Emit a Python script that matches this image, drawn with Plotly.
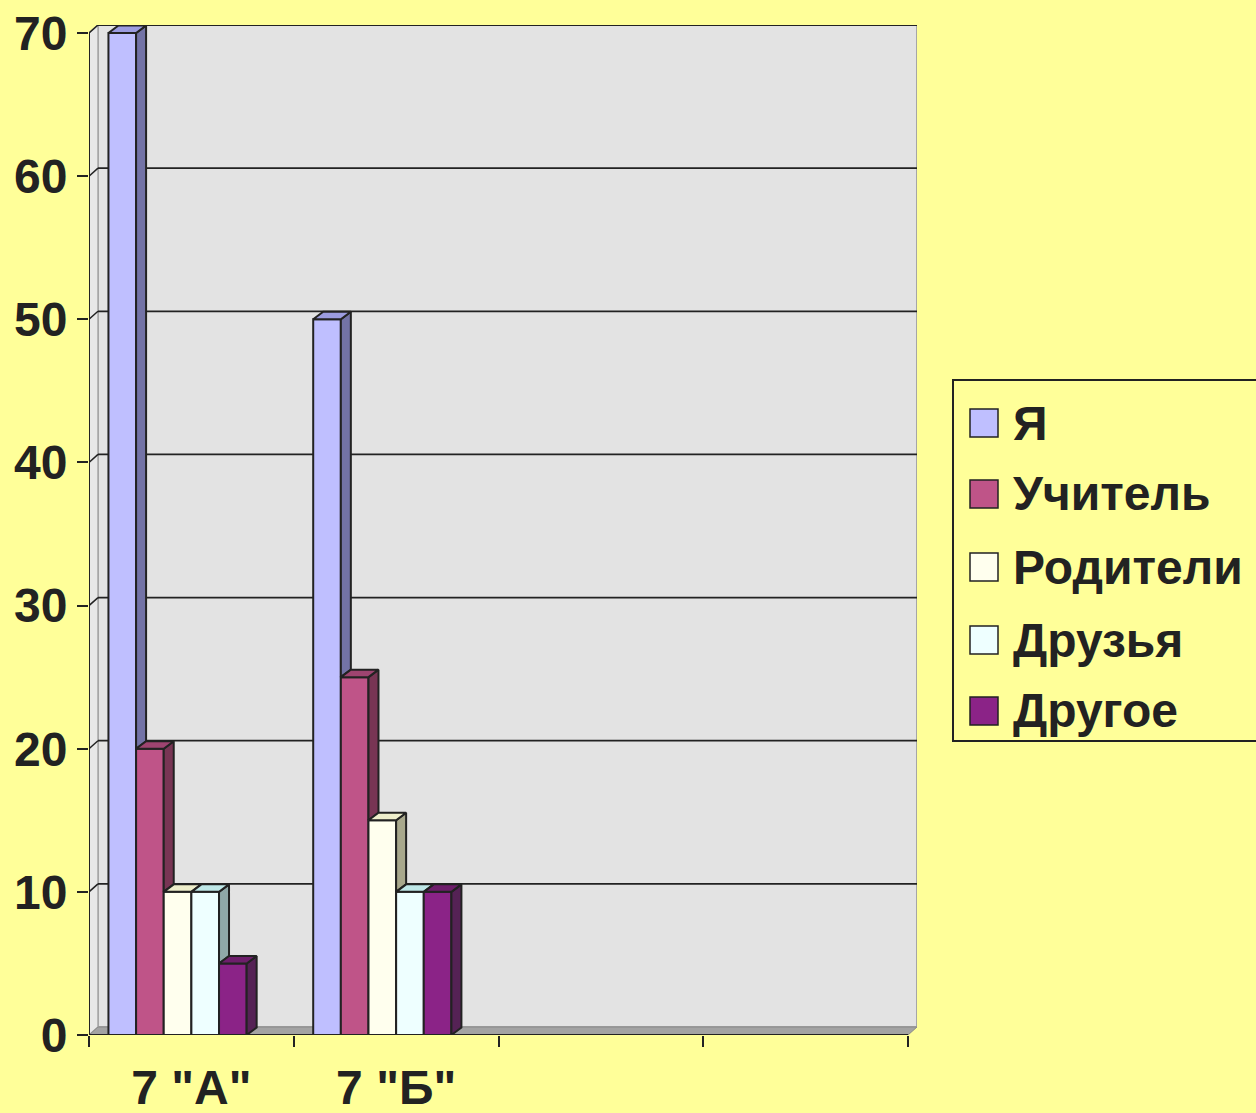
import plotly.graph_objects as go

# ---------------- data ----------------
categories = ['7 "А"', '7 "Б"']
series_names = ["Я", "Учитель", "Родители", "Друзья", "Другое"]
ya_values = [70, 50]
uchitel_values = [20, 25]
roditeli_values = [10, 15]
druzya_values = [10, 10]
drugoe_values = [5, 10]
series_values = [ya_values, uchitel_values, roditeli_values, druzya_values, drugoe_values]
y_ticks = [0, 10, 20, 30, 40, 50, 60, 70]
n_slots = 4  # category slots on the axis (two are empty)

# ---------------- styles ----------------
front_colors = ["#BFBFFF", "#BF5488", "#FFFFEE", "#EEFFFF", "#8B2387"]
side_colors = ["#7373A6", "#783554", "#A8A88C", "#8FA8A8", "#552255"]
top_colors = ["#9C9CE0", "#9E4470", "#EEEECB", "#BFE8E8", "#6E1E6B"]
BG = "#FFFF99"
INK = "#222222"
FONT = "Liberation Sans, Arial, sans-serif"

# pixel geometry
L, R, T, B = 89, 917, 25, 1035
W_IMG, H_IMG = 1256, 1113
slot_px = (908 - L) / n_slots
y_px = (B - 33) / 70.0
DXW = 9 / slot_px      # wall depth in x units
DYW = 8 / y_px         # wall depth in y units
DXB = 10 / slot_px     # bar depth
DYB = 7.5 / y_px
xr = [-0.5, n_slots - 0.5 + (R - 908) / slot_px]
yr = [0, max(y_ticks) + DYW]

bar_w = 0.135
bar_start = -0.405

fig = go.Figure()

# front faces as bars
for k, name in enumerate(series_names):
    fig.add_trace(go.Bar(
        x=list(range(len(categories))), y=series_values[k], name=name,
        width=bar_w, offset=bar_start + k * bar_w,
        marker=dict(color=front_colors[k], line=dict(color=INK, width=2)),
        showlegend=False, hoverinfo="name+y",
    ))

# side and top faces (clipped where a neighbouring bar hides them)
for k in range(len(series_names)):
    sx, sy, tx, ty = [], [], [], []
    for c in range(len(categories)):
        v = series_values[k][c]
        x0 = c + bar_start + k * bar_w
        x1 = x0 + bar_w
        nxt = series_values[k + 1][c] if k + 1 < len(series_names) else None
        lo = 0 if nxt is None else nxt
        if nxt is None or v > nxt:
            sx += [x1, x1 + DXB, x1 + DXB, x1, x1, None]
            sy += [lo, lo + DYB, v + DYB, v, lo, None]
        if nxt is not None and nxt >= v + DYB:
            tx += [x0, x0 + DXB, x1, x1, x0, None]
            ty += [v, v + DYB, v + DYB, v, v, None]
        else:
            tx += [x0, x0 + DXB, x1 + DXB, x1, x0, None]
            ty += [v, v + DYB, v + DYB, v, v, None]
    if sx:
        fig.add_trace(go.Scatter(x=sx, y=sy, mode="lines", fill="toself",
                                 fillcolor=side_colors[k], line=dict(color=INK, width=2),
                                 showlegend=False, hoverinfo="skip"))
    fig.add_trace(go.Scatter(x=tx, y=ty, mode="lines", fill="toself",
                             fillcolor=top_colors[k], line=dict(color=INK, width=2),
                             showlegend=False, hoverinfo="skip"))

# invisible trace to carry the category-label axis
fig.add_trace(go.Scatter(x=list(range(len(categories))), y=[0] * len(categories),
                         xaxis="x2", mode="markers", marker=dict(opacity=0),
                         showlegend=False, hoverinfo="skip"))

shapes = []
xl, xrt = -0.5, n_slots - 0.5
top = max(y_ticks)
# back wall
shapes.append(dict(type="rect", xref="x", yref="y", x0=xl + DXW, x1=xrt + DXW, y0=DYW, y1=top + DYW,
                   fillcolor="#E3E3E3", line=dict(color="#A6A6A6", width=2), layer="below"))
# left wall
shapes.append(dict(type="path", xref="x", yref="y",
                   path=f"M{xl},0 L{xl + DXW},{DYW} L{xl + DXW},{top + DYW} L{xl},{top} Z",
                   fillcolor="#E8E8E8", line=dict(color="#A6A6A6", width=1.5), layer="below"))
# floor
shapes.append(dict(type="path", xref="x", yref="y",
                   path=f"M{xl},0 L{xl + DXW},{DYW} L{xrt + DXW},{DYW} L{xrt},0 Z",
                   fillcolor="#A3A3A3", line=dict(color="#8A8A8A", width=1), layer="below"))
# gridlines on back and left walls
for t in y_ticks[1:]:
    shapes.append(dict(type="line", xref="x", yref="y", x0=xl + DXW, x1=xrt + DXW, y0=t + DYW, y1=t + DYW,
                       line=dict(color=INK, width=1.8), layer="below"))
    shapes.append(dict(type="line", xref="x", yref="y", x0=xl, x1=xl + DXW, y0=t, y1=t + DYW,
                       line=dict(color=INK, width=1.5), layer="below"))
# axis lines
shapes.append(dict(type="line", xref="x", yref="y", x0=xl, x1=xl, y0=0, y1=top,
                   line=dict(color=INK, width=2)))
shapes.append(dict(type="line", xref="x", yref="y", x0=xl, x1=xrt, y0=0, y1=0,
                   line=dict(color=INK, width=2)))


# manual legend
def px_x(p):
    return (p - L) / (R - L)


def px_y(p):
    return (B - p) / (B - T)


annotations = []
shapes.append(dict(type="rect", xref="paper", yref="paper",
                   x0=px_x(953), x1=px_x(1262), y0=px_y(741), y1=px_y(380),
                   fillcolor="rgba(0,0,0,0)", line=dict(color=INK, width=2)))
item_y = [423, 494, 567, 640, 711]
for k, name in enumerate(series_names):
    cy = item_y[k]
    shapes.append(dict(type="rect", xref="paper", yref="paper",
                       x0=px_x(970), x1=px_x(998), y0=px_y(cy + 14), y1=px_y(cy - 14),
                       fillcolor=front_colors[k], line=dict(color=INK, width=1.5)))
    annotations.append(dict(xref="paper", yref="paper", x=px_x(1011), y=px_y(cy),
                            xanchor="left", yanchor="middle", text=name, showarrow=False,
                            font=dict(family=FONT, size=48, color=INK, weight="bold")))

fig.update_layout(
    width=W_IMG, height=H_IMG, autosize=False,
    margin=dict(l=L, r=W_IMG - R, t=T, b=H_IMG - B, pad=0, autoexpand=False),
    paper_bgcolor=BG, plot_bgcolor=BG,
    barmode="overlay", showlegend=False,
    shapes=shapes, annotations=annotations,
    xaxis=dict(range=xr, tickmode="array", automargin=False,
               tickvals=[i - 0.5 for i in range(n_slots + 1)],
               ticktext=[""] * (n_slots + 1),
               ticks="outside", ticklen=11, tickwidth=2, tickcolor=INK,
               showgrid=False, zeroline=False, showline=False, fixedrange=True),
    xaxis2=dict(range=xr, overlaying="x", anchor="y", side="bottom", tickmode="array",
                automargin=False,
                tickvals=list(range(len(categories))), ticktext=categories,
                ticks="outside", ticklen=10, tickcolor="rgba(0,0,0,0)",
                showgrid=False, zeroline=False, showline=False,
                tickfont=dict(family=FONT, size=48, color=INK, weight="bold")),
    yaxis=dict(range=yr, tickmode="array", tickvals=y_ticks, automargin=False,
               ticks="outside", ticklen=11, tickwidth=2, tickcolor=INK,
               showgrid=False, zeroline=False, showline=False,
               tickfont=dict(family=FONT, size=48, color=INK, weight="bold")),
    font=dict(family=FONT, color=INK),
)

fig.write_html("out.html", config={"displayModeBar": False},
               post_script="document.body.style.margin='0';document.body.style.overflow='hidden';")
